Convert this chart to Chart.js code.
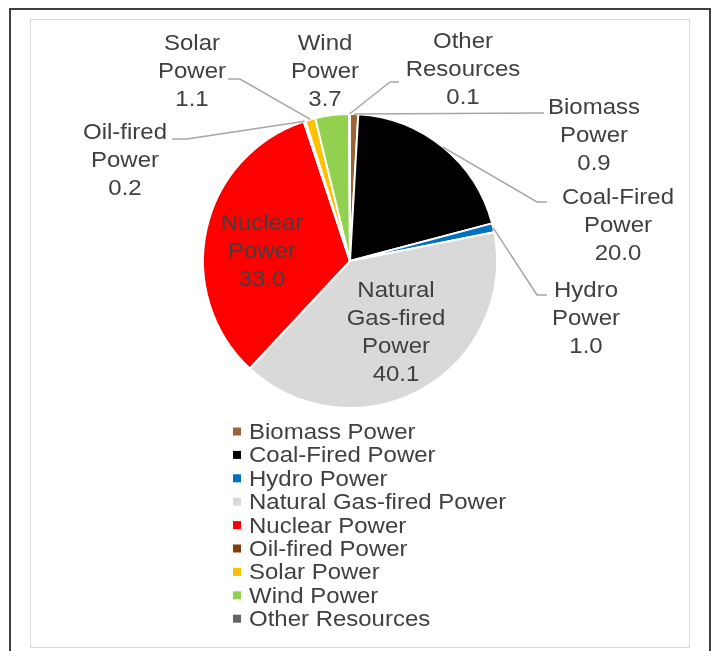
<!DOCTYPE html>
<html>
<head>
<meta charset="utf-8">
<script src="https://cdn.jsdelivr.net/npm/chart.js@4.4.0/dist/chart.umd.min.js"></script>
<style>
  body { margin: 0; background: #fff; overflow: hidden; }
  #frame { position: absolute; left: 9px; top: 8px; width: 698px; height: 700px; border: 2px solid #404040; border-bottom: none; }
  #plot { position: absolute; left: 30px; top: 19px; width: 658px; height: 627px; border: 1px solid #d9d9d9; }
  #myChart { position: absolute; left: 0; top: 0; }
</style>
</head>
<body>
<div id="frame"></div>
<div id="plot"></div>
<canvas id="myChart" width="713" height="651"></canvas>
<script>
// generation mix, percent
let sources = [
    "Biomass Power",
    "Coal-Fired Power",
    "Hydro Power",
    "Natural Gas-fired Power",
    "Nuclear Power",
    "Oil-fired Power",
    "Solar Power",
    "Wind Power",
    "Other Resources",
];
let shares = [0.9, 20.0, 1.0, 40.1, 33.0, 0.2, 1.1, 3.7, 0.1];
let sliceColors = [
    "#9c6233",
    "#000000",
    "#0070c0",
    "#d9d9d9",
    "#ff0000",
    "#843c0c",
    "#ffc000",
    "#92d050",
    "#636363",
];

// label placement, px from pie centre: text centre, leader elbow, tail direction
let labelSpots = [
    { text: [244, -127], elbow: [194, -148], tail: 0 },
    { text: [268, -37], elbow: [187, -59], tail: 10 },
    { text: [236, 56], elbow: [187, 34], tail: 10 },
    { text: [46, 70] },
    { text: [-88, -11] },
    { text: [-225, -102], elbow: [-163, -122], tail: -15 },
    { text: [-158, -191], elbow: [-110, -182], tail: -12 },
    { text: [-25, -191] },
    { text: [113, -193], elbow: [40, -179], tail: 9 },
];

const FONT = '22px "Liberation Sans", Arial, sans-serif';
const TEXT = '#404040';
const STRETCH = 1.09; // excel text runs a bit wide

function wideText(ctx, t, x, y) {
    ctx.save();
    ctx.translate(x, y + 2);
    ctx.scale(STRETCH, 1);
    ctx.fillText(t, 0, 0);
    ctx.restore();
}

const pieLabels = {
    id: 'pieLabels',
    afterDatasetsDraw(chart) {
        const ctx = chart.ctx;
        const meta = chart.getDatasetMeta(0);
        ctx.save();
        ctx.font = FONT;
        ctx.textAlign = 'center';
        ctx.textBaseline = 'middle';
        meta.data.forEach((arc, i) => {
            const p = arc.getProps(['x', 'y', 'startAngle', 'endAngle', 'outerRadius'], true);
            const spot = labelSpots[i];
            if (spot.elbow) {
                const mid = (p.startAngle + p.endAngle) / 2;
                const ex = p.x + Math.cos(mid) * p.outerRadius;
                const ey = p.y + Math.sin(mid) * p.outerRadius;
                const bx = p.x + spot.elbow[0], by = p.y + spot.elbow[1];
                ctx.beginPath();
                ctx.strokeStyle = '#a6a6a6';
                ctx.lineWidth = 1.5;
                ctx.moveTo(ex, ey);
                ctx.lineTo(bx, by);
                ctx.lineTo(bx + spot.tail, by);
                ctx.stroke();
            }
            const lines = sources[i].split(' ').concat([shares[i].toFixed(1)]);
            const lh = 27.8;
            const cx = p.x + spot.text[0];
            const cy = p.y + spot.text[1] - (lines.length - 1) * lh / 2;
            ctx.fillStyle = TEXT;
            lines.forEach((t, k) => wideText(ctx, t, cx, cy + k * lh));
        });
        ctx.restore();
    }
};

const sideLegend = {
    id: 'sideLegend',
    afterDraw(chart) {
        const ctx = chart.ctx;
        ctx.save();
        ctx.font = FONT;
        ctx.textBaseline = 'middle';
        ctx.textAlign = 'left';
        for (let i = 0; i < sources.length; i++) {
            const y = 431 + i * 23.4;
            ctx.fillStyle = sliceColors[i];
            ctx.fillRect(233, y - 3.5, 8, 8);
            ctx.fillStyle = TEXT;
            wideText(ctx, sources[i], 249, y);
        }
        ctx.restore();
    }
};

new Chart("myChart", {
    type: "pie",
    data: {
        labels: sources,
        datasets: [{
            data: shares,
            backgroundColor: sliceColors,
            borderColor: '#ffffff',
            borderWidth: 2
        }]
    },
    options: {
        responsive: false,
        animation: false,
        layout: { padding: { left: 202, right: 215, top: 113, bottom: 242 } },
        plugins: {
            legend: { display: false },
            tooltip: { enabled: false }
        }
    },
    plugins: [pieLabels, sideLegend]
});
</script>
</body>
</html>
